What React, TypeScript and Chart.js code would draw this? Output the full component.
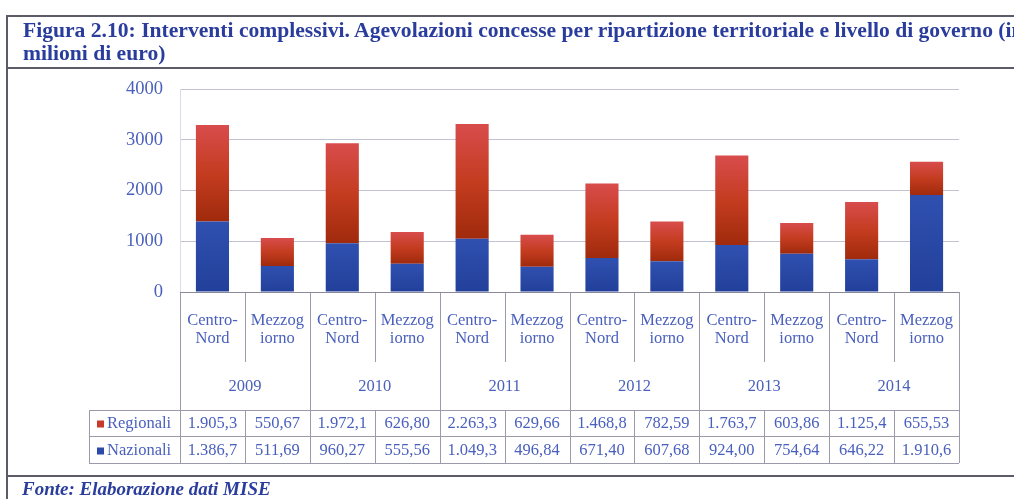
import React, { useEffect, useRef } from "react";
import { Chart, registerables } from "chart.js";

Chart.register(...registerables);

// ---- data ----
const years = ["2009", "2010", "2011", "2012", "2013", "2014"];
const areas = ["Centro-Nord", "Mezzogiorno"];
const areaLines = [["Centro-", "Nord"], ["Mezzog", "iorno"]];
const categories = years.flatMap((y) => areas.map((a) => `${a} ${y}`));
const regionali = [1905.3, 550.67, 1972.1, 626.8, 2263.3, 629.66, 1468.8, 782.59, 1763.7, 603.86, 1125.4, 655.53];
const nazionali = [1386.7, 511.69, 960.27, 555.56, 1049.3, 496.84, 671.4, 607.68, 924.0, 754.64, 646.22, 1910.6];
const seriesNames = ["Regionali", "Nazionali"];
const yMin = 0;
const yMax = 4000;
const yStep = 1000;

const TEXT_BLUE = "#4a60bd";
const TITLE_BLUE = "#2a3d9c";
const RED = "#c83a2c";
const BLUE = "#2c4aaa";
const LINE = "#9a9aaa";
const SERIF = "'Liberation Serif', 'Times New Roman', serif";

function fmt(v: number): string {
  const intDigits = Math.floor(Math.abs(v)).toString().length;
  const dec = Math.max(0, 5 - intDigits);
  const [ip, dp] = v.toFixed(dec).split(".");
  const grouped = ip.replace(/\B(?=(\d{3})+(?!\d))/g, ".");
  return dp ? `${grouped},${dp}` : grouped;
}

function redFill(ctx: any) {
  const chart = ctx.chart;
  const y = chart.scales?.y;
  if (!chart.chartArea || !y) return RED;
  const i = ctx.dataIndex;
  const base = y.getPixelForValue(nazionali[i]);
  const top = y.getPixelForValue(nazionali[i] + regionali[i]);
  if (!isFinite(base) || !isFinite(top) || base === top) return RED;
  const g = chart.ctx.createLinearGradient(0, top, 0, base);
  g.addColorStop(0, "#d84c4c");
  g.addColorStop(0.5, "#c43c20");
  g.addColorStop(1, "#a02a0c");
  return g;
}

function blueFill(ctx: any) {
  const chart = ctx.chart;
  const y = chart.scales?.y;
  if (!chart.chartArea || !y) return BLUE;
  const i = ctx.dataIndex;
  const base = y.getPixelForValue(0);
  const top = y.getPixelForValue(nazionali[i]);
  if (!isFinite(base) || !isFinite(top) || base === top) return BLUE;
  const g = chart.ctx.createLinearGradient(0, top, 0, base);
  g.addColorStop(0, "#3050b0");
  g.addColorStop(1, "#22409a");
  return g;
}

const tablePlugin = {
  id: "dataTable",
  afterDraw(chart: any) {
    const { ctx, chartArea: ca, scales } = chart;
    const x = scales.x;
    const n = categories.length;
    const w = ca.width / n;
    const top = ca.bottom;
    const innerBottom = top + 70;
    const headBottom = top + 118;
    const rowMid = top + 144;
    const rowBottom = top + 171;
    const labelLeft = 89;
    const L = ca.left;
    const R = ca.right;

    ctx.save();
    ctx.strokeStyle = LINE;
    ctx.lineWidth = 1;
    const line = (x1: number, y1: number, x2: number, y2: number) => {
      ctx.beginPath();
      ctx.moveTo(x1, y1);
      ctx.lineTo(x2, y2);
      ctx.stroke();
    };
    // vertical boundaries
    for (let k = 0; k <= n; k++) {
      const xx = Math.round(L + k * w) + 0.5;
      if (k % 2 === 0) {
        line(xx, top, xx, rowBottom);
      } else {
        line(xx, top, xx, innerBottom);
        line(xx, headBottom, xx, rowBottom);
      }
    }
    // horizontals
    line(labelLeft, Math.round(headBottom) + 0.5, R, Math.round(headBottom) + 0.5);
    line(labelLeft, Math.round(rowMid) + 0.5, R, Math.round(rowMid) + 0.5);
    line(labelLeft, Math.round(rowBottom) + 0.5, R, Math.round(rowBottom) + 0.5);
    line(labelLeft + 0.5, headBottom, labelLeft + 0.5, rowBottom);
    // axis line
    ctx.strokeStyle = "#8a8a9a";
    line(L, Math.round(top) + 0.5, R, Math.round(top) + 0.5);

    // texts
    ctx.fillStyle = TEXT_BLUE;
    ctx.font = `16.5px ${SERIF}`;
    ctx.textAlign = "center";
    ctx.textBaseline = "middle";
    for (let i = 0; i < n; i++) {
      const cx = x.getPixelForValue(i);
      const lines = areaLines[i % 2];
      ctx.fillText(lines[0], cx, top + 29);
      ctx.fillText(lines[1], cx, top + 47);
      ctx.fillText(fmt(regionali[i]), cx, top + 132);
      ctx.fillText(fmt(nazionali[i]), cx, top + 159);
    }
    for (let j = 0; j < years.length; j++) {
      const cx = L + (2 * j + 1) * w;
      ctx.fillText(years[j], cx, top + 95);
    }
    // legend column
    ctx.textAlign = "left";
    const rows = [
      { name: seriesNames[0], color: RED, y: top + 132 },
      { name: seriesNames[1], color: BLUE, y: top + 159 },
    ];
    rows.forEach((r) => {
      ctx.fillStyle = r.color;
      ctx.fillRect(97, r.y - 3.5, 7, 7);
      ctx.fillStyle = TEXT_BLUE;
      ctx.fillText(r.name, 107, r.y);
    });
    ctx.restore();
  },
};

export default function App() {
  const ref = useRef<HTMLCanvasElement | null>(null);

  useEffect(() => {
    if (!ref.current) return;
    const chart = new Chart(ref.current, {
      type: "bar",
      data: {
        labels: categories,
        datasets: [
          {
            label: seriesNames[1],
            data: nazionali,
            backgroundColor: blueFill as any,
            borderWidth: 0,
            barPercentage: 0.51,
            categoryPercentage: 1,
          },
          {
            label: seriesNames[0],
            data: regionali,
            backgroundColor: redFill as any,
            borderWidth: 0,
            barPercentage: 0.51,
            categoryPercentage: 1,
          },
        ],
      },
      options: {
        responsive: false,
        animation: false,
        devicePixelRatio: 1,
        layout: { padding: { top: 89, right: 55, left: 0, bottom: 0 } },
        plugins: {
          legend: { display: false },
          title: { display: false },
          tooltip: { enabled: false },
        },
        scales: {
          x: {
            stacked: true,
            ticks: { display: false },
            grid: { display: false },
            border: { display: false },
            afterFit: (s: any) => {
              s.height = 207;
            },
          },
          y: {
            stacked: true,
            min: yMin,
            max: yMax,
            ticks: {
              stepSize: yStep,
              color: TEXT_BLUE,
              padding: 17,
              font: { family: SERIF, size: 18.5 },
              callback: (v: any) => String(v),
            },
            grid: { color: "#c2c2d2", drawTicks: false, lineWidth: 1 },
            border: { display: true, color: "#dcdce8" },
            afterFit: (s: any) => {
              s.width = 180;
            },
          },
        },
      },
      plugins: [tablePlugin],
    });
    return () => chart.destroy();
  }, []);

  const hline = (top: number): React.CSSProperties => ({
    position: "absolute",
    left: 6,
    top,
    width: 1008,
    height: 2,
    background: "#5c5c68",
  });

  return (
    <div style={{ position: "absolute", left: 0, top: 0, width: 1014, height: 499, overflow: "hidden", background: "#fff" }}>
      <canvas ref={ref} width={1014} height={499} style={{ position: "absolute", left: 0, top: 0 }} />
      <div style={hline(15)} />
      <div style={hline(67)} />
      <div style={hline(475)} />
      <div style={{ position: "absolute", left: 6, top: 15, width: 2, height: 484, background: "#5c5c68" }} />
      <div
        style={{
          position: "absolute",
          left: 23,
          top: 19,
          width: 991,
          overflow: "hidden",
          whiteSpace: "nowrap",
          fontFamily: SERIF,
          fontWeight: "bold",
          fontSize: 21.6,
          lineHeight: "23px",
          color: TITLE_BLUE,
        }}
      >
        <div>Figura 2.10: Interventi complessivi. Agevolazioni concesse per ripartizione territoriale e livello di governo (in</div>
        <div>milioni di euro)</div>
      </div>
      <div
        style={{
          position: "absolute",
          left: 22,
          top: 478,
          whiteSpace: "nowrap",
          fontFamily: SERIF,
          fontWeight: "bold",
          fontStyle: "italic",
          fontSize: 19,
          lineHeight: "22px",
          color: TITLE_BLUE,
        }}
      >
        Fonte: Elaborazione dati MISE
      </div>
    </div>
  );
}
